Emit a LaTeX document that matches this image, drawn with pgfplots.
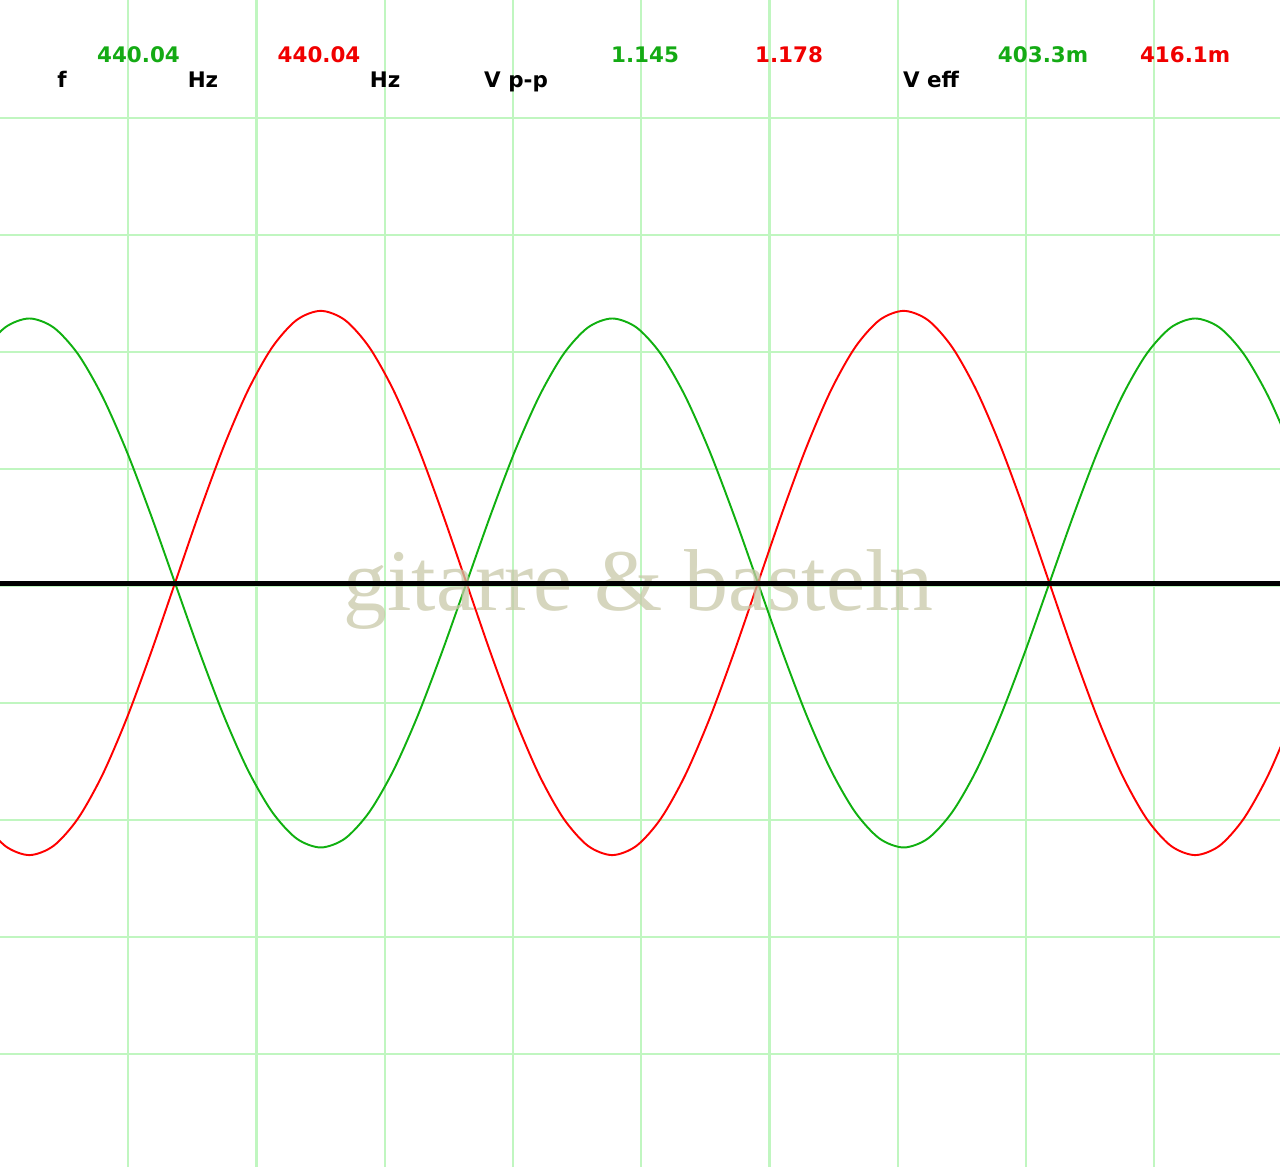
\documentclass[border=0pt]{standalone}
\usepackage{pgfplots}
\pgfplotsset{compat=1.18}
\usepackage{pgfplotstable}
\usepackage{fontspec}
\newfontfamily\scopefont{DejaVu Sans}
\newfontfamily\wmfont{Liberation Serif}

\definecolor{gridgreen}{RGB}{192,246,192}
\definecolor{chA}{RGB}{16,176,16}
\definecolor{chB}{RGB}{255,0,0}
\definecolor{txtA}{RGB}{20,170,20}
\definecolor{txtB}{RGB}{240,0,0}
\definecolor{wmark}{RGB}{200,200,168}

% two channels, 440 Hz, sampled every 15 degrees of phase
% t [ms]   channel A [V]   channel B [V]
\pgfplotstableread{
t       a        b
-0.0752  0.4958  -0.5101
0.0195   0.5530  -0.5689
0.1142   0.5725  -0.5890
0.2089   0.5530  -0.5689
0.3036   0.4958  -0.5101
0.3983   0.4048  -0.4165
0.4930   0.2863  -0.2945
0.5876   0.1482  -0.1524
0.6823   0.0000   0.0000
0.7770  -0.1482   0.1524
0.8717  -0.2863   0.2945
0.9664  -0.4048   0.4165
1.0611  -0.4958   0.5101
1.1558  -0.5530   0.5689
1.2505  -0.5725   0.5890
1.3452  -0.5530   0.5689
1.4398  -0.4958   0.5101
1.5345  -0.4048   0.4165
1.6292  -0.2863   0.2945
1.7239  -0.1482   0.1524
1.8186   0.0000   0.0000
1.9133   0.1482  -0.1524
2.0080   0.2863  -0.2945
2.1027   0.4048  -0.4165
2.1973   0.4958  -0.5101
2.2920   0.5530  -0.5689
2.3867   0.5725  -0.5890
2.4814   0.5530  -0.5689
2.5761   0.4958  -0.5101
2.6708   0.4048  -0.4165
2.7655   0.2863  -0.2945
2.8602   0.1482  -0.1524
2.9548   0.0000   0.0000
3.0495  -0.1482   0.1524
3.1442  -0.2863   0.2945
3.2389  -0.4048   0.4165
3.3336  -0.4958   0.5101
3.4283  -0.5530   0.5689
3.5230  -0.5725   0.5890
3.6177  -0.5530   0.5689
3.7123  -0.4958   0.5101
3.8070  -0.4048   0.4165
3.9017  -0.2863   0.2945
3.9964  -0.1482   0.1524
4.0911   0.0000   0.0000
4.1858   0.1482  -0.1524
4.2805   0.2863  -0.2945
4.3752   0.4048  -0.4165
4.4698   0.4958  -0.5101
4.5645   0.5530  -0.5689
4.6592   0.5725  -0.5890
4.7539   0.5530  -0.5689
4.8486   0.4958  -0.5101
4.9433   0.4048  -0.4165
5.0380   0.2863  -0.2945
}\scopedata

\begin{document}
\begin{tikzpicture}
\begin{axis}[
  name=scope,
  scale only axis,
  width=12.8cm, height=11.67cm,
  xmin=0, xmax=4.990,
  ymin=-1.2641, ymax=1.2619,
  axis line style={draw=none},
  xtick={0.5,1,1.5,2,2.5,3,3.5,4,4.5},
  ytick={-1.0195,-0.7662,-0.5130,-0.2597,-0.0065,0.2468,0.5,0.7532,1.0065},
  xticklabels={}, yticklabels={},
  major tick length=0pt,
  grid=major,
  major grid style={draw=gridgreen, line width=0.6pt},
  clip=true,
]
% traces
\addplot[chA, line width=0.55pt, smooth] table[x=t, y=a] {\scopedata};
\addplot[chB, line width=0.55pt, smooth] table[x=t, y=b] {\scopedata};

% watermark
\node[font=\wmfont\fontsize{25}{25}\selectfont, text=wmark, text opacity=0.75, anchor=base]
  at (axis cs:2.489,-0.0606) {gitarre \& basteln};

% zero reference line
\addplot[black, line width=1.45pt] coordinates {(0,-0.002) (4.990,-0.002)};

% measurement readout
\begin{scope}[every node/.style={anchor=base, inner sep=0pt,
    font=\scopefont\bfseries\fontsize{6.1}{7}\selectfont}]
  \node[text=black] at (axis cs:0.2417,1.0714) {f};
  \node[text=txtA]  at (axis cs:0.5400,1.1255) {440.04};
  \node[text=black] at (axis cs:0.7914,1.0714) {Hz};
  \node[text=txtB]  at (axis cs:1.2437,1.1255) {440.04};
  \node[text=black] at (axis cs:1.5010,1.0714) {Hz};
  \node[text=black] at (axis cs:2.0117,1.0714) {V p-p};
  \node[text=txtA]  at (axis cs:2.5146,1.1255) {1.145};
  \node[text=txtB]  at (axis cs:3.0760,1.1255) {1.178};
  \node[text=black] at (axis cs:3.6296,1.0714) {V eff};
  \node[text=txtA]  at (axis cs:4.0663,1.1255) {403.3m};
  \node[text=txtB]  at (axis cs:4.6199,1.1255) {416.1m};
\end{scope}
\end{axis}
\pgfresetboundingbox
\path[use as bounding box] (scope.south west) rectangle (scope.north east);
\end{tikzpicture}
\end{document}
